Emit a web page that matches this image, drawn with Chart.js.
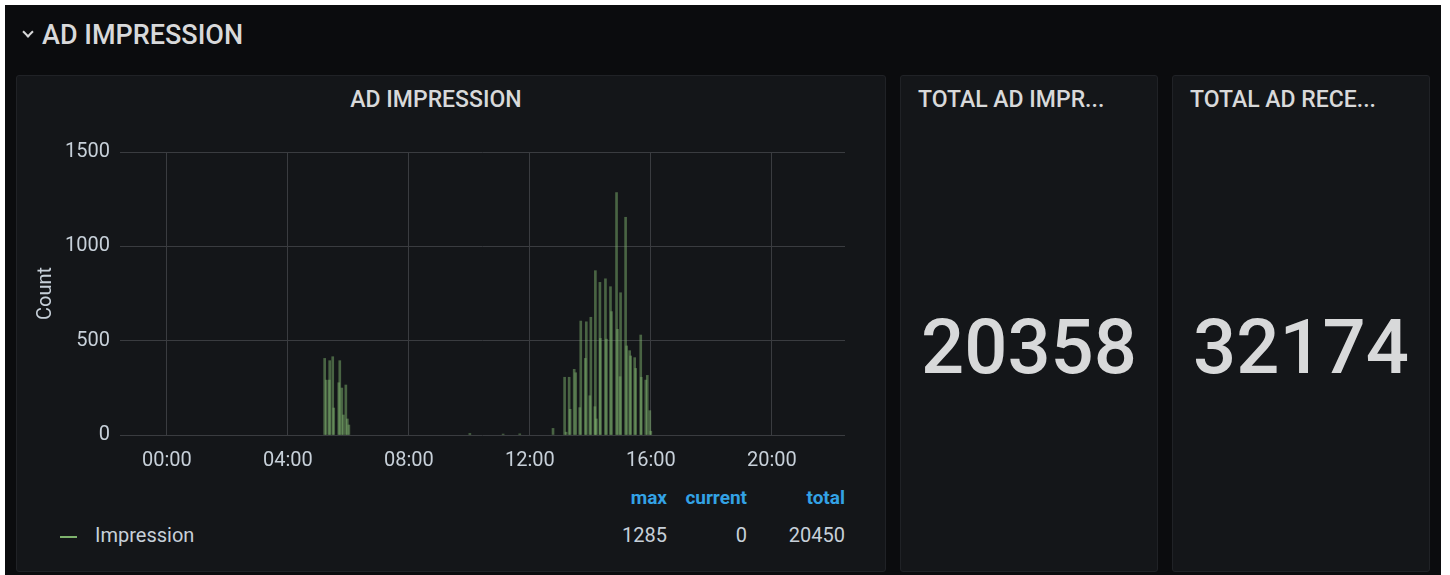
<html lang="en">
 <head>
  <meta charset="UTF-8">
  <title>AD IMPRESSION</title>
  <style>
      body {
        margin: 0;
        background-color: #ffffff;
        font-family: Roboto, "Noto Sans", Arial, sans-serif;
      }

      .dash {
        position: absolute;
        left: 5px;
        top: 5px;
        width: 1436px;
        height: 570px;
        background-color: #0b0c0e;
      }

      .row-title {
        position: absolute;
        left: 42px;
        top: 19px;
        font-size: 27px;
        font-weight: 500;
        color: #d8d9da;
        line-height: 32px;
      }

      .chevron {
        position: absolute;
        left: 24px;
        top: 28px;
        width: 6px;
        height: 6px;
        border-right: 2px solid #d8d9da;
        border-bottom: 2px solid #d8d9da;
        transform: rotate(45deg);
      }

      .panel {
        position: absolute;
        top: 75px;
        height: 495px;
        background-color: #141619;
        border: 1px solid #202226;
        border-radius: 3px;
      }

      .panel-title {
        position: absolute;
        top: 11px;
        font-size: 23px;
        font-weight: 500;
        color: #d8d9da;
        line-height: 26px;
        white-space: nowrap;
      }

      .stat {
        position: absolute;
        left: 0;
        width: 100%;
        top: 226px;
        text-align: center;
        font-size: 76px;
        font-weight: 500;
        color: #d8d9da;
        line-height: 90px;
      }

      .legend-cell {
        position: absolute;
        font-size: 20px;
        line-height: 24px;
        text-align: right;
        color: #c7d0d9;
      }

      .legend-head {
        color: #33a2e5;
        font-weight: 700;
        font-size: 19px;
      }
    </style>
 </head>
 <body>
  <div class="dash"></div>
  <div class="chevron"></div>
  <div class="row-title">AD IMPRESSION</div>

  <div class="panel" style="left: 16px; width: 868px;">
   <div class="panel-title" style="left: 0; width: 838px; text-align: center;">AD IMPRESSION</div>
  </div>
  <div class="panel" style="left: 900px; width: 256px;">
   <div class="panel-title" style="left: 17px;">TOTAL AD IMPR...</div>
   <div class="stat" id="stat1"></div>
  </div>
  <div class="panel" style="left: 1172px; width: 256px;">
   <div class="panel-title" style="left: 17px;">TOTAL AD RECE...</div>
   <div class="stat" id="stat2"></div>
  </div>

  <div style="position: absolute; left: 30px; top: 130px; width: 830px; height: 345px;">
   <canvas id="impressionChart"></canvas>
  </div>

  <div id="legend"></div>

  <script src="https://cdn.jsdelivr.net/npm/chart.js"></script>
  <script>
      // values (time of day -> count)
      const impressionTimes = [
        '05:13', '05:16', '05:22', '05:23', '05:29', '05:31', '05:41', '05:43', '05:47', '05:50', '05:55', '05:58', '06:01',
        '10:01', '11:07', '11:40', '12:46',
        '13:09', '13:12', '13:18', '13:20', '13:28', '13:31', '13:39', '13:41', '13:50', '13:52', '13:59',
        '14:01', '14:09', '14:10', '14:12', '14:19', '14:20', '14:30', '14:32', '14:40', '14:42', '14:52', '14:54', '14:59',
        '15:00', '15:10', '15:12', '15:18', '15:20', '15:28', '15:30', '15:40', '15:41', '15:50', '15:53', '15:58', '16:00'
      ];
      const impressionCounts = [
        406, 291, 291, 394, 415, 143, 277, 394, 249, 106, 265, 85, 53,
        8, 5, 6, 35,
        306, 15, 306, 136, 348, 330, 145, 604, 406, 600, 208,
        624, 150, 871, 85, 809, 512, 828, 508, 786, 654, 1285, 560, 309,
        754, 1154, 472, 447, 419, 410, 353, 530, 306, 291, 316, 129, 20
      ];
      const xTickHours = [0, 4, 8, 12, 16, 20];
      const yTicks = [0, 500, 1000, 1500];

      const legendHeaders = ['max', 'current', 'total'];
      const legendValues = [1285, 0, 20450];
      const statValues = [20358, 32174];

      document.getElementById('stat1').textContent = statValues[0];
      document.getElementById('stat2').textContent = statValues[1];

      // legend table under the graph
      const legendRight = [667, 747, 845];
      let html = '<div class="legend-cell" style="left:60px;top:523px;text-align:left;">' +
        '<span style="display:inline-block;width:17px;height:2px;background:#7eb26d;vertical-align:middle;margin-right:18px;"></span>Impression</div>';
      legendHeaders.forEach((h, i) => {
        html += '<div class="legend-cell legend-head" style="right:' + (1450 - legendRight[i]) + 'px;top:486px;">' + h + '</div>';
        html += '<div class="legend-cell" style="right:' + (1450 - legendRight[i]) + 'px;top:523px;">' + legendValues[i] + '</div>';
      });
      document.getElementById('legend').innerHTML = html;

      function toHours(t) {
        const p = t.split(':');
        return parseInt(p[0]) + parseInt(p[1]) / 60;
      }

      const points = impressionTimes.map((t, i) => ({ x: toHours(t), y: impressionCounts[i] }));

      const gridColor = '#3a3c40';
      const tickColor = '#c7d0d9';

      new Chart(document.getElementById('impressionChart'), {
        type: 'bar',
        data: {
          datasets: [{
            label: 'Impression',
            data: points,
            backgroundColor: 'rgba(126, 178, 109, 0.5)',
            borderWidth: 0,
            barThickness: 2
          }]
        },
        options: {
          responsive: true,
          maintainAspectRatio: false,
          animation: false,
          layout: { padding: { top: 4, right: 15, left: 0, bottom: 0 } },
          plugins: {
            legend: { display: false },
            tooltip: { enabled: false }
          },
          scales: {
            x: {
              type: 'linear',
              offset: false,
              min: -1.55,
              max: 22.42,
              afterBuildTicks: axis => { axis.ticks = xTickHours.map(v => ({ value: v })); },
              afterFit: axis => { axis.height = 40; },
              grid: { color: gridColor, drawTicks: false, offset: false },
              border: { display: false },
              ticks: {
                color: tickColor,
                font: { family: 'Roboto', size: 20 },
                padding: 14,
                maxRotation: 0,
                callback: v => String(v).padStart(2, '0') + ':00'
              }
            },
            y: {
              min: 0,
              max: 1500,
              afterBuildTicks: axis => { axis.ticks = yTicks.map(v => ({ value: v })); },
              afterFit: axis => { axis.width = 90; },
              grid: { color: gridColor, drawTicks: false },
              border: { display: false },
              title: {
                display: true,
                text: 'Count',
                color: tickColor,
                font: { family: 'Roboto', size: 20 },
                padding: { top: 4, bottom: 0 }
              },
              ticks: {
                color: tickColor,
                font: { family: 'Roboto', size: 20 },
                padding: 10,
                callback: v => String(v)
              }
            }
          }
        }
      });
    </script>
 </body>
</html>
